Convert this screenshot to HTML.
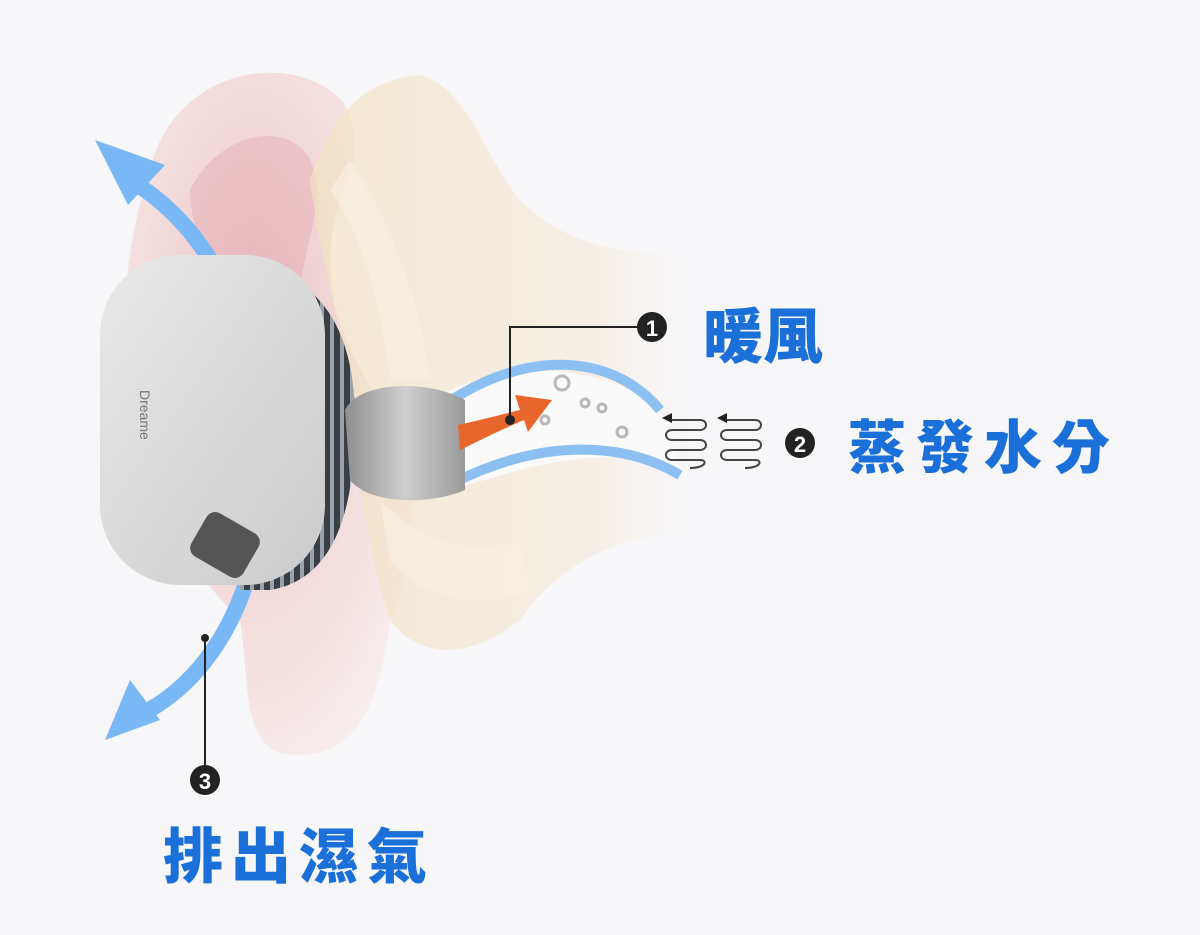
<!DOCTYPE html>
<html><head><meta charset="utf-8"><style>
html,body{margin:0;padding:0;background:#f7f7fa;}
svg{display:block}
text.lab{font-family:"Liberation Sans","Noto Sans CJK TC",sans-serif;font-weight:900;fill:#1a6fd9;}
</style></head><body>
<svg width="1200" height="935" viewBox="0 0 1200 935" xmlns="http://www.w3.org/2000/svg">
<defs>
<radialGradient id="ear" cx="0.45" cy="0.4" r="0.7">
<stop offset="0" stop-color="#ecc4c6"/><stop offset="0.6" stop-color="#f4dede"/><stop offset="1" stop-color="#f8f0f0"/>
</radialGradient>
<linearGradient id="sec" x1="0" x2="1" y1="0" y2="0">
<stop offset="0" stop-color="#f2e2c0"/><stop offset="0.7" stop-color="#f5ebde"/><stop offset="1" stop-color="#f7f3f2" stop-opacity="0"/>
</linearGradient>
<linearGradient id="dev" x1="0" x2="1" y1="0" y2="1">
<stop offset="0" stop-color="#e9e9e9"/><stop offset="1" stop-color="#cbcbcb"/>
</linearGradient>
<linearGradient id="tip" x1="0" x2="1">
<stop offset="0" stop-color="#8f8f8f"/><stop offset="0.5" stop-color="#cfcfcf"/><stop offset="1" stop-color="#9a9a9a"/>
</linearGradient>
<pattern id="rib" width="10" height="10" patternUnits="userSpaceOnUse">
<rect width="10" height="10" fill="#3a3f45"/><rect width="4" height="10" fill="#9aa3aa"/>
</pattern>
</defs>
<path d="M150 170 C170 80 270 50 330 90 C360 110 360 160 340 200 C320 260 330 330 380 400 C420 470 420 560 390 620 C380 700 360 760 290 755 C240 750 250 680 240 620 C180 560 130 470 125 380 C120 300 130 230 150 170Z" fill="url(#ear)"/>
<path d="M190 190 C220 130 290 120 310 160 C330 200 300 250 300 300 L260 300 C230 280 190 250 190 190Z" fill="#e3a9b1" opacity="0.45"/>
<path d="M310 180 C330 120 360 80 420 75 C470 90 480 150 520 200 C580 260 650 250 720 260 L720 540 C640 520 560 560 520 620 C470 660 420 660 390 620 C370 560 360 500 360 440 C350 360 320 260 310 180Z" fill="url(#sec)" opacity="0.7"/>
<path d="M330 190 C360 230 380 300 390 380 L430 380 C420 300 390 220 350 160Z" fill="#f7efe0" opacity="0.8"/>
<path d="M380 500 C420 540 470 560 520 540 L530 590 C480 610 420 600 390 560Z" fill="#f7efe0" opacity="0.8"/>
<path d="M430 400 C500 360 600 360 660 410 L680 470 C600 440 520 470 450 490Z" fill="#fafafa"/>
<path d="M440 408 C520 350 610 350 660 410" fill="none" stroke="#8cc0f2" stroke-width="10"/>
<path d="M455 482 C540 440 620 440 680 475" fill="none" stroke="#8cc0f2" stroke-width="10"/>
<g fill="none" stroke="#b8b8b8" stroke-width="3">
<circle cx="562" cy="383" r="7"/><circle cx="585" cy="403" r="4"/><circle cx="602" cy="408" r="4"/><circle cx="622" cy="432" r="5"/><circle cx="545" cy="420" r="4"/>
</g>
<g fill="none" stroke="#444" stroke-width="2">
<path d="M668 420 L700 420 C708 420 708 430 700 430 L672 430 C664 430 664 440 672 440 L700 440 C708 440 708 450 700 450 L672 450 C664 450 664 460 672 460 L700 460 C708 460 706 468 690 468"/>
<path d="M723 420 L755 420 C763 420 763 430 755 430 L727 430 C719 430 719 440 727 440 L755 440 C763 440 763 450 755 450 L727 450 C719 450 719 460 727 460 L755 460 C763 460 761 468 745 468"/>
</g>
<path d="M662 418 l10 -5 l0 10z M717 418 l10 -5 l0 10z" fill="#222"/>
<path d="M245 335 C220 260 180 210 130 180" fill="none" stroke="#7ab8f5" stroke-width="16"/>
<path d="M95 140 L165 165 L128 205 Z" fill="#7ab8f5"/>
<path d="M250 570 C230 640 190 690 140 715" fill="none" stroke="#7ab8f5" stroke-width="16"/>
<path d="M105 740 L130 680 L160 720 Z" fill="#7ab8f5"/>
<path d="M240 265 C320 270 355 330 355 420 C355 520 330 580 270 590 L240 590Z" fill="url(#rib)"/>
<rect x="100" y="255" width="225" height="330" rx="80" fill="url(#dev)"/>
<path d="M345 410 C360 380 430 380 465 400 L465 490 C430 505 370 505 350 480Z" fill="url(#tip)"/>
<rect x="200" y="515" width="50" height="60" rx="10" fill="#555" transform="rotate(-60 225 545)"/>
<text x="140" y="390" transform="rotate(90 140 390)" font-family="Liberation Sans,sans-serif" font-size="14" fill="#777">Dreame</text>
<path d="M458 425 C480 420 500 415 520 410 L515 395 L552 400 L528 432 L524 420 C505 428 480 440 460 450Z" fill="#e8662c"/>
<path d="M510 420 L510 327 L640 327" fill="none" stroke="#222" stroke-width="2"/>
<circle cx="510" cy="420" r="5" fill="#222"/>
<circle cx="652" cy="327" r="15" fill="#222"/>
<text x="652" y="336" text-anchor="middle" font-family="Liberation Sans,sans-serif" font-weight="700" font-size="22" fill="#fff">1</text>
<text class="lab" x="703" y="358" font-size="60">暖風</text>
<circle cx="800" cy="443" r="15" fill="#222"/>
<text x="800" y="452" text-anchor="middle" font-family="Liberation Sans,sans-serif" font-weight="700" font-size="22" fill="#fff">2</text>
<text class="lab" x="848" y="468" font-size="58" letter-spacing="10">蒸發水分</text>
<path d="M205 638 L205 765" stroke="#222" stroke-width="2"/>
<circle cx="205" cy="638" r="4" fill="#222"/>
<circle cx="205" cy="780" r="15" fill="#222"/>
<text x="205" y="789" text-anchor="middle" font-family="Liberation Sans,sans-serif" font-weight="700" font-size="22" fill="#fff">3</text>
<text class="lab" x="163" y="878" font-size="60" letter-spacing="8">排出濕氣</text>
</svg>
</body></html>
